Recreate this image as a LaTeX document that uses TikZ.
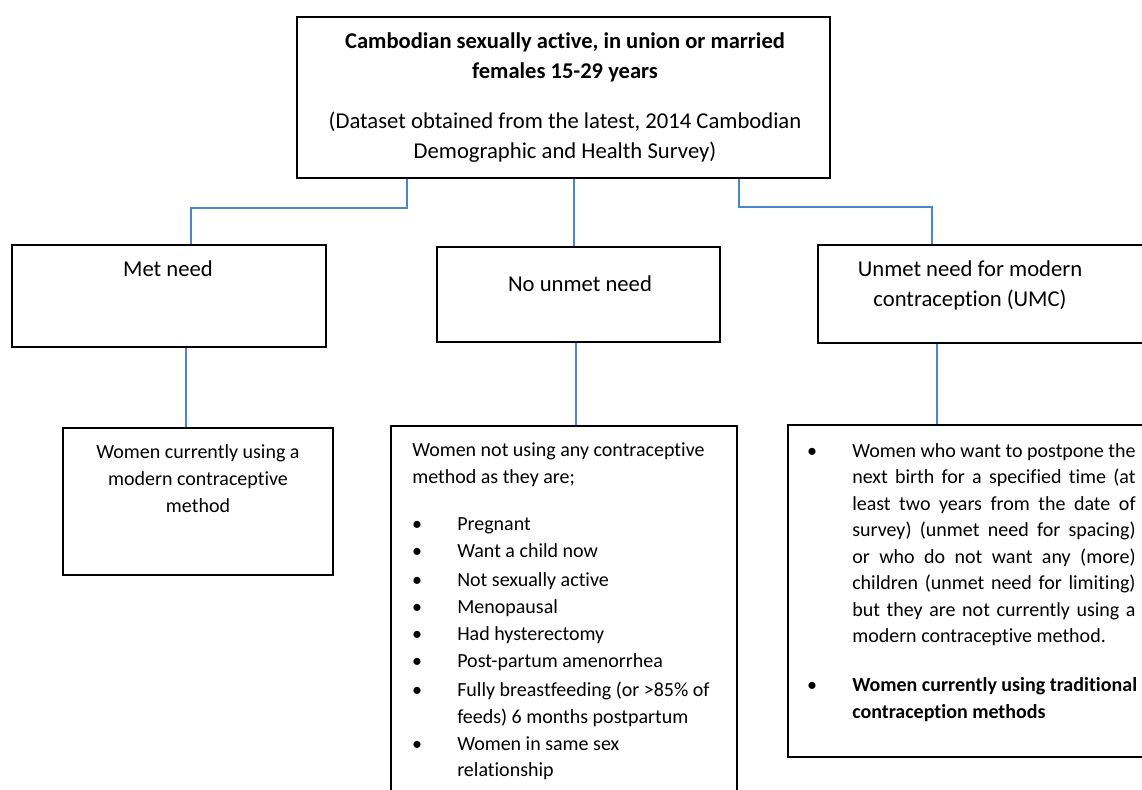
\documentclass[tikz,border=0pt]{standalone}
\usepackage{fontspec}
\setmainfont{Carlito}[Ligatures=NoCommon]
\usetikzlibrary{fit}
\definecolor{connblue}{RGB}{74,134,205}
\begin{document}
\begin{tikzpicture}[x=0.75pt,y=-0.75pt,
  box/.style={draw=black,line width=2.2pt,inner sep=0pt},
  conn/.style={draw=connblue,line width=1.1pt},
  ttl/.style={inner sep=0pt,anchor=base,font=\fontsize{16.9}{19}\selectfont\bfseries},
  sub/.style={inner sep=0pt,anchor=base,font=\fontsize{17}{19}\selectfont},
  head/.style={inner sep=0pt,anchor=base,font=\fontsize{17}{19}\selectfont},
  body/.style={inner sep=0pt,anchor=base,font=\fontsize{15}{18}\selectfont},
  bodyl/.style={inner sep=0pt,anchor=base west,font=\fontsize{15}{18}\selectfont},
  bul/.style={inner sep=0pt,anchor=base,font=\fontsize{15}{18}\selectfont}]
\useasboundingbox (0,0) rectangle (1142,789);
\clip (0,0) rectangle (1142,789);
\fill[white] (0,0) rectangle (1142,789);
% boxes
\node[box,fit={(297,17) (830,178)}] (top) {};
\node[box,fit={(12,245) (326,347)}] (met) {};
\node[box,fit={(437,247) (720,342)}] (nou) {};
\node[box,fit={(818,245) (1150,343)}] (umc) {};
\node[box,fit={(63,428) (333,575)}] (lowL) {};
\node[box,fit={(391,426) (737,810)}] (lowM) {};
\node[box,fit={(788,425) (1150,757)}] (lowR) {};
% connectors
\coordinate (a1) at (407,208);
\coordinate (a2) at (191,208);
\draw[conn] (top.south -| a1) -- (a1) -- (a2) -- (met.north -| a2);
\coordinate (b1) at (574,210);
\draw[conn] (top.south -| b1) -- (nou.north -| b1);
\coordinate (c1) at (739,207);
\coordinate (c2) at (932,207);
\draw[conn] (top.south -| c1) -- (c1) -- (c2) -- (umc.north -| c2);
\coordinate (d1) at (186,400);
\draw[conn] (met.south -| d1) -- (lowL.north -| d1);
\coordinate (d2) at (576,400);
\draw[conn] (nou.south -| d2) -- (lowM.north -| d2);
\coordinate (d3) at (937,400);
\draw[conn] (umc.south -| d3) -- (lowR.north -| d3);
% top texts
\node[ttl] (t1) at (565,48) {Cambodian sexually active, in union or married};
\node[ttl] (t2) at (565,78) {females 15-29 years};
\node[sub] (t3) at (565,128) {(Dataset obtained from the latest, 2014 Cambodian};
\node[sub] (t4) at (565,158) {Demographic and Health Survey)};
% headings
\node[head] (m1) at (168,276) {Met need};
\node[head] (n1) at (580,291) {No unmet need};
\node[head] (u1) at (970,276) {Unmet need for modern};
\node[head] (u2) at (970,306) {contraception (UMC)};
% lower left
\node[body] (l1) at (198,458) {Women currently using a};
\node[body] (l2) at (198,485) {modern contraceptive};
\node[body] (l3) at (198,512) {method};
% lower middle
\node[bodyl] (p1) at (412,456) {Women not using any contraceptive};
\node[bodyl] (p2) at (412,483) {method as they are;};
\foreach \i/\yy/\tx in {1/530/Pregnant,2/557/Want a child now,3/586/Not sexually active,4/613/Menopausal,5/640/Had hysterectomy,6/667/Post-partum amenorrhea,7/696/{Fully breastfeeding (or >85\% of},9/750/Women in same sex}{
  \node[bul] (mb\i) at (417,\yy) {•};
  \node[bodyl] (mt\i) at (457,\yy) {\tx};
}
\node[bodyl] (mt8) at (457,723) {feeds) 6 months postpartum};
\node[bodyl] (mt10) at (457,776) {relationship};
% lower right
\node[bul] (rb1) at (812,457) {•};
\foreach \i/\yy/\tx in {1/457/Women who want to postpone the,2/483.5/next birth for a specified time (at,3/510/least two years from the date of,4/536.5/survey) (unmet need for spacing),5/563/or who do not want any (more),6/589.5/children (unmet need for limiting),7/616/but they are not currently using a}{
  \node[bodyl] (rt\i) at (852,\yy) {\makebox[212.5pt][s]{\tx}};
}
\node[bodyl] (rt8) at (852,642.5) {modern contraceptive method.};
\node[bul] (rb2) at (812,691) {•};
\node[bodyl,font=\fontsize{15}{18}\selectfont\bfseries] (rt9) at (852,691) {Women currently using traditional};
\node[bodyl,font=\fontsize{15}{18}\selectfont\bfseries] (rt10) at (852,718) {contraception methods};
\end{tikzpicture}
\end{document}
